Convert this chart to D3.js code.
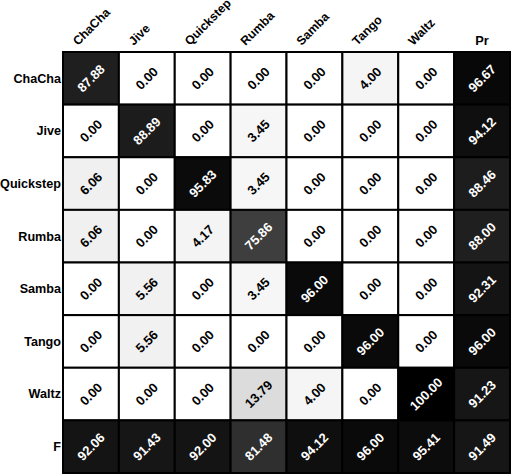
<!DOCTYPE html>
<html>
<head>
<meta charset="utf-8">
<script src="https://cdn.jsdelivr.net/npm/d3@7"></script>
<style>
  body { margin: 0; background: #fff; }
  svg { display: block; }
  text { font-family: "Liberation Sans", Arial, sans-serif; font-weight: bold; }
</style>
</head>
<body>
<div id="chart"></div>
<script>
// classes (rows = actual, cols = predicted)
var classes = ['ChaCha','Jive','Quickstep','Rumba','Samba','Tango','Waltz'];
var colKeys = classes.concat(['Pr']);
var rowKeys = classes.concat(['F']);

var confusion = [
	[87.88, 0.00, 0.00, 0.00, 0.00, 4.00, 0.00],
	[0.00, 88.89, 0.00, 3.45, 0.00, 0.00, 0.00],
	[6.06, 0.00, 95.83, 3.45, 0.00, 0.00, 0.00],
	[6.06, 0.00, 4.17, 75.86, 0.00, 0.00, 0.00],
	[0.00, 5.56, 0.00, 3.45, 96.00, 0.00, 0.00],
	[0.00, 5.56, 0.00, 0.00, 0.00, 96.00, 0.00],
	[0.00, 0.00, 0.00, 13.79, 4.00, 0.00, 100.00]
];
var precision = [96.67, 94.12, 88.46, 88.00, 92.31, 96.00, 91.23];
var fscore = [92.06, 91.43, 92.00, 81.48, 94.12, 96.00, 95.41, 91.49];

var W = 512, H = 476,
	gLeft = 63, gRight = 510, gTop = 52, gBottom = 473;

var svg = d3.select('#chart').append('svg').attr('width',W).attr('height',H);

var x = d3.scaleBand().domain(colKeys).range([gLeft,gRight]),
	y = d3.scaleBand().domain(rowKeys).range([gTop,gBottom]),
	shade = d3.scaleLinear().domain([0,100]).range(['#ffffff','#000000']);

// flatten into cells
var cells = [];
rowKeys.forEach(function(r,i){
	colKeys.forEach(function(c,j){
		var v;
		if (r === 'F') v = fscore[j];
		else if (c === 'Pr') v = precision[i];
		else v = confusion[i][j];
		cells.push({row:r,col:c,v:v});
	});
});

var g = svg.append('g');

g.selectAll('.cell')
	.data(cells)
	.enter()
	.append('rect')
		.attr('class','cell')
		.attr('x',function(d){ return x(d.col); })
		.attr('y',function(d){ return y(d.row); })
		.attr('width',x.bandwidth())
		.attr('height',y.bandwidth())
		.attr('fill',function(d){ return shade(d.v); })
		.attr('stroke','#000')
		.attr('stroke-width',2);

g.selectAll('.val')
	.data(cells)
	.enter()
	.append('text')
		.attr('class','val')
		.attr('text-anchor','middle')
		.attr('dy','0.35em')
		.attr('font-size','13px')
		.attr('fill',function(d){ return d.v > 50 ? '#fff' : '#000'; })
		.attr('transform',function(d){
			var cx = x(d.col) + x.bandwidth()/2,
				cy = y(d.row) + y.bandwidth()/2;
			return 'translate('+cx+','+cy+') rotate(-45)';
		})
		.text(function(d){ return d.v.toFixed(2); });

// row labels
svg.selectAll('.rowLabel')
	.data(rowKeys)
	.enter()
	.append('text')
		.attr('class','rowLabel')
		.attr('text-anchor','end')
		.attr('dy','0.35em')
		.attr('font-size','12.6px')
		.attr('x',gLeft-2)
		.attr('y',function(d){ return y(d) + y.bandwidth()/2; })
		.text(function(d){ return d; });

// column labels (rotated, except Pr)
svg.selectAll('.colLabel')
	.data(classes)
	.enter()
	.append('text')
		.attr('class','colLabel')
		.attr('font-size','12.3px')
		.attr('transform',function(d){
			var cx = x(d) + x.bandwidth()/2 - 13;
			return 'translate('+cx+','+(gTop-6)+') rotate(-45)';
		})
		.text(function(d){ return d; });

svg.append('text')
	.attr('text-anchor','middle')
	.attr('font-size','12.8px')
	.attr('x',x('Pr') + x.bandwidth()/2)
	.attr('y',gTop-7)
	.text('Pr');
</script>
</body>
</html>
